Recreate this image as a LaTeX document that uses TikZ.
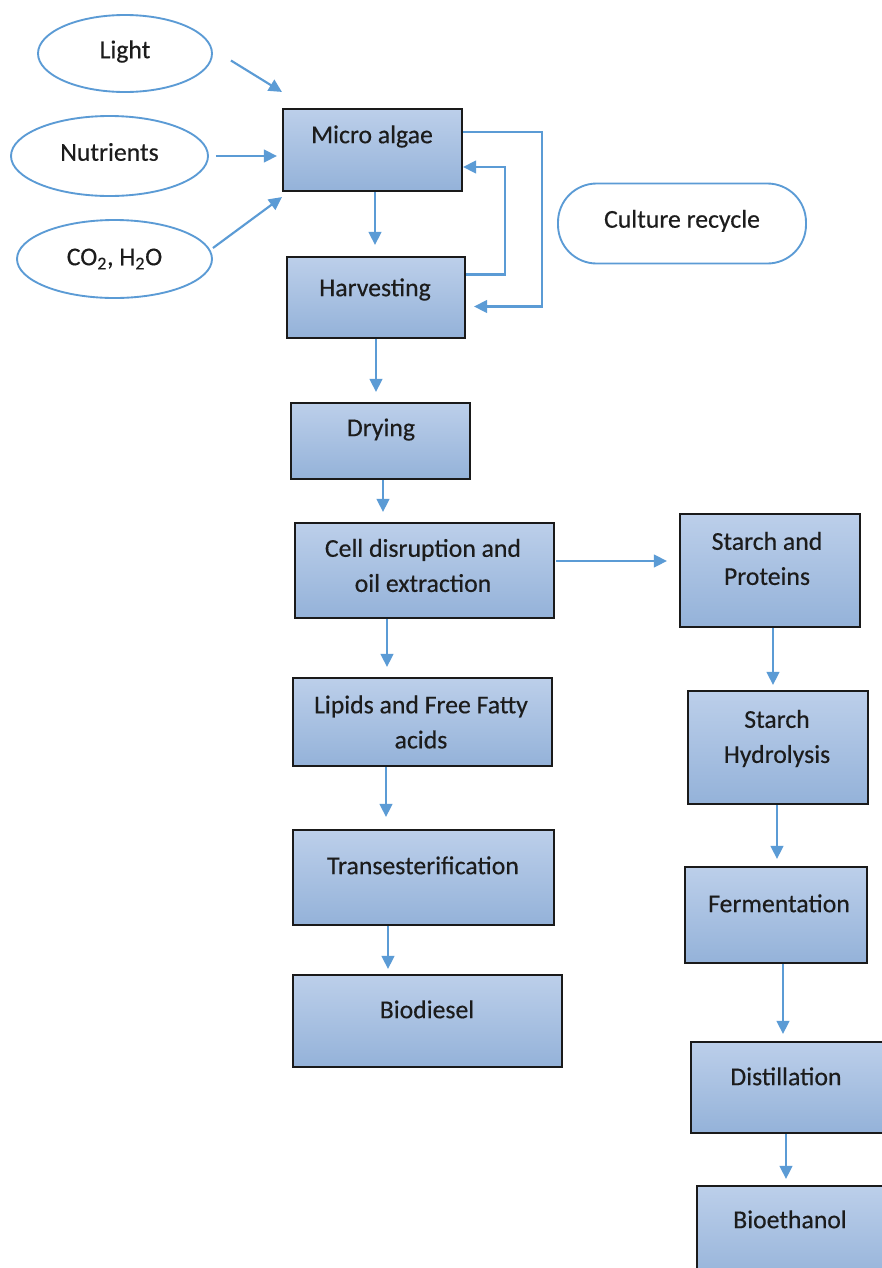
\documentclass[tikz,border=0pt]{standalone}
\usepackage{fontspec}
\setmainfont{Carlito}
\newfontfamily\capfont{Carlito}[FakeBold=0.35]
\usetikzlibrary{arrows.meta,calc,fit,shapes.geometric}
\definecolor{boxtop}{HTML}{BCCFEA}
\definecolor{boxbot}{HTML}{94B2D9}
\definecolor{flow}{HTML}{5B9BD5}
\definecolor{edge}{HTML}{1A1A1A}
\definecolor{ink}{HTML}{1C1C1C}
\newcommand{\lift}[2]{\raisebox{#1}[\height][\depth]{#2}}
\tikzset{
  captionfont/.style={font=\capfont\fontsize{19.3}{26.3}\selectfont},
  stage/.style={draw=edge, line width=1.6pt, top color=boxtop, bottom color=boxbot, inner sep=0pt},
  boxtext/.style={text=ink, captionfont, align=center},
  oneline/.style={boxtext, anchor=mid},
  input/.style={ellipse, draw=flow, line width=1.4pt, fill=white, inner sep=0pt,
    text=ink, captionfont},
  flowarrow/.style={draw=flow, line width=1.6pt, -{Triangle[length=9.75pt,width=9.5pt]}},
}
\begin{document}
\begin{tikzpicture}[x=0.75pt,y=-0.75pt]
\useasboundingbox (0,0) rectangle (882,1268);
\clip (0,0) rectangle (882,1268);
\fill[white] (0,0) rectangle (882,1268);

% inputs
\node[input, minimum width=130.5pt, minimum height=57.75pt] (light) at (125,53.5) {\lift{1.5pt}{Light}};
\node[input, minimum width=147.75pt, minimum height=60pt] (nut) at (109.5,156) {\lift{3pt}{Nutrients}};
\node[input, minimum width=146.25pt, minimum height=58.5pt] (co2) at (114.5,259) {CO\textsubscript{2}, H\textsubscript{2}O};
\node[draw=flow, line width=1.4pt, rounded corners=29pt, minimum width=186pt, minimum height=60pt,
  inner sep=0pt, text=ink, captionfont] (recycle) at (682,223.5) {\lift{2pt}{Culture recycle}};

% process stages
\node[stage, fit={(283,109) (462,191)}] (micro) {};
\node[stage, fit={(287,257) (465,338)}] (harvest) {};
\node[stage, fit={(291,403) (470,479)}] (drying) {};
\node[stage, fit={(295,523) (554,618)}] (cell) {};
\node[stage, fit={(293,678) (552,766)}] (lipids) {};
\node[stage, fit={(293,830) (554,925)}] (trans) {};
\node[stage, fit={(293,975) (562,1067)}] (biodiesel) {};
\node[stage, fit={(680,514) (860,627)}] (starch) {};
\node[stage, fit={(688,691) (868,804)}] (hydro) {};
\node[stage, fit={(685,867) (867,963)}] (ferm) {};
\node[stage, fit={(691,1042) (895,1133)}] (distil) {};
\node[stage, fit={(697,1186) (895,1285)}] (bioeth) {};

% stage captions
\node[oneline] (micro-t) at (372,140) {Micro algae};
\node[oneline] (harvest-t) at (375,293) {Harvesting};
\node[oneline] (drying-t) at (381,433) {Drying};
\node[boxtext] (cell-t) at (423,565.5) {Cell disruption and\\oil extraction};
\node[boxtext] (lipids-t) at (421,722) {Lipids and Free Fatty\\acids};
\node[oneline] (trans-t) at (423,871) {Transesterification};
\node[oneline] (biodiesel-t) at (427,1015) {Biodiesel};
\node[boxtext] (starch-t) at (767,558.5) {Starch and\\Proteins};
\node[boxtext] (hydro-t) at (777,738.5) {Starch\\Hydrolysis};
\node[oneline] (ferm-t) at (779,909) {Fermentation};
\node[oneline] (distil-t) at (786,1082) {Distillation};
\node[oneline] (bioeth-t) at (790,1225) {Bioethanol};

% inputs into the culture
\draw[flowarrow] ($(light.east)+(18,7)$) -- ($(micro.north west)+(0,-16)$);
\draw[flowarrow] ($(nut.east)+(7,0)$) -- ($(micro.west |- nut.east)+(-5,0)$);
\draw[flowarrow] ($(co2.east)+(0,-11)$) -- ($(micro.south west)+(0,5)$);

% main line
\draw[flowarrow] ($(micro.south)+(2.5,0)$) -- ($(harvest.north)+(-1,-11)$);
\draw[flowarrow] ($(harvest.east)+(0,-23)$) -| ($(micro.east)+(42,17)$) -- ($(micro.east)+(0,17)$);
\draw[flowarrow] ($(micro.east)+(0,-18)$) -| ($(harvest.east)+(76,9)$) -- ($(harvest.east)+(8,9)$);
\draw[flowarrow] (harvest.south) -- ($(drying.north)+(-4.5,-10)$);
\draw[flowarrow] ($(drying.south)+(2.5,0)$) -- ($(cell.north)+(-41.5,-10)$);
\draw[flowarrow] ($(cell.east)+(1,-9.5)$) -- ($(starch.west)+(-12,-9.5)$);
\draw[flowarrow] ($(cell.south)+(-37.5,0)$) -- ($(lipids.north)+(-35.5,-10)$);
\draw[flowarrow] ($(lipids.south)+(-36.5,0)$) -- ($(trans.north)+(-37.5,-12)$);
\draw[flowarrow] ($(trans.south)+(-35.5,0)$) -- ($(biodiesel.north)+(-39.5,-5)$);

% starch branch
\draw[flowarrow] ($(starch.south)+(3,0)$) -- ($(hydro.north)+(-5,-5)$);
\draw[flowarrow] ($(hydro.south)+(-1,0)$) -- ($(ferm.north)+(1,-7)$);
\draw[flowarrow] ($(ferm.south)+(7,0)$) -- ($(distil.north)+(-10,-7)$);
\draw[flowarrow] ($(distil.south)+(-7,0)$) -- ($(bioeth.north)+(-10,-6)$);
\end{tikzpicture}
\end{document}
